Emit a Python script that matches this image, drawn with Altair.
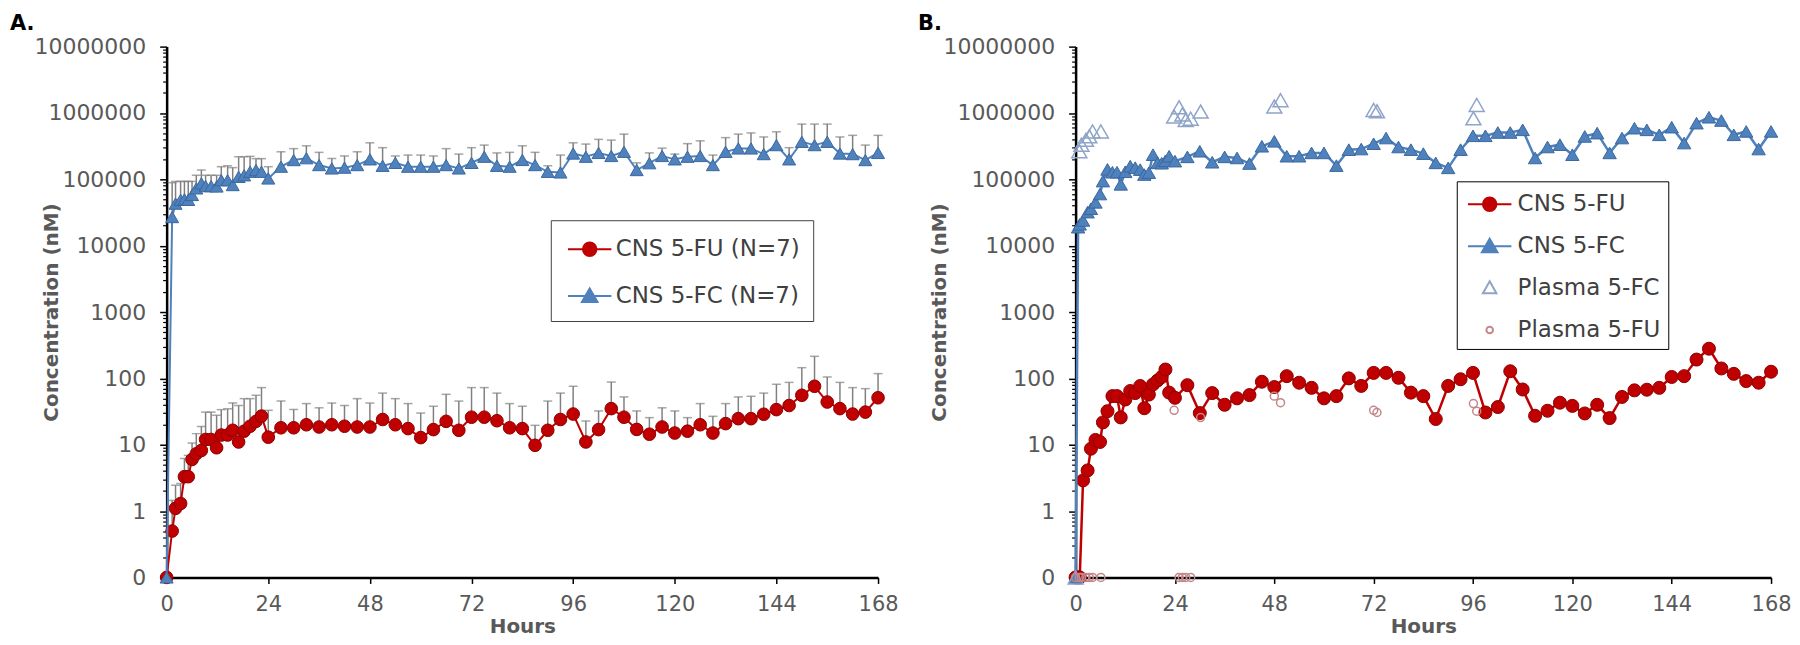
import altair as alt
import pandas as pd

# ----------------------------------------------------------------- data
ZERO_POS = 0.1  # the log axis bottom, labelled "0" (Excel plots 0 there)

hours_a = [0, 1.3, 2.1, 3.3, 4.2, 5.1, 6, 7, 8.2, 9.2, 10.5, 11.8, 12.9, 14.4, 15.6, 17, 18.3, 19.7, 21.1, 22.4, 24,
           27, 30, 33, 36, 39, 42, 45, 48, 51, 54, 57, 60, 63, 66, 69, 72, 75, 78, 81, 84,
           87, 90, 93, 96, 99, 102, 105, 108, 111, 114, 117, 120, 123, 126, 129, 132, 135, 138, 141, 144,
           147, 150, 153, 156, 159, 162, 165, 168]

fu_a = [0, 0.5, 1.1, 1.3, 3.3, 3.3, 6, 7.3, 8.2, 12, 12, 9, 14, 14, 16.5, 11, 16, 19, 22.5, 27, 13,
        18, 18, 20, 18.5, 20, 19, 18.5, 18.5, 24, 20,
        17.5, 12.8, 16.9, 22.5, 16.5, 26, 26, 23, 18, 17.5,
        9.8, 16.5, 24, 29, 11, 16.9, 35, 26, 17, 14.4,
        18.5, 15, 16, 20, 15, 20.8, 24.7, 24.7, 28.8, 33.8,
        39, 55.6, 76, 44, 35, 29, 31, 51]

fu_a_upper = [0, 1.45, 2.45, 2.6, 6.2, 6.9, 10.6, 14.7, 18.9, 31, 31, 27.8, 33.8, 34.8, 42.6, 39, 49.5, 49.5, 55.6, 72.6, 33,
              45.6, 34, 41.7, 36, 42.5, 39, 49.5, 42.5, 60, 49.5,
              41.7, 30, 38, 57.5, 45.5, 72.6, 72.6, 60, 41.7, 38,
              19.6, 45.5, 60, 76, 22.8, 32.3, 88, 52.5, 32.3, 25.6,
              36, 32.3, 25.6, 41.7, 26.8, 41.7, 52.5, 53.7, 60, 81.5,
              87, 145, 215, 105, 87, 72.6, 70, 118]

fc_a = [0, 27000, 43000, 49000, 50000, 49000, 58000, 73000, 87000, 79000, 79000, 78000, 97000, 97000, 82000,
        109000, 115000, 130000, 138000, 130000, 103000,
        155000, 195000, 208000, 164000, 146000, 150000, 164000, 200000, 160000, 177000,
        155000, 155000, 155000, 164000, 146000, 177000, 219000, 160000, 155000, 196000,
        164000, 130000, 127000, 245000, 219000, 250000, 225000, 260000, 138000, 175000,
        225000, 200000, 219000, 225000, 164000, 260000, 292000, 292000, 240000, 328000,
        200000, 368000, 328000, 368000, 245000, 240000, 195000, 250000]

fc_a_upper = [0, 89000, 93000, 93000, 93000, 93000, 93000, 115000, 138000, 115000, 115000, 115000, 155000, 160000,
              150000, 219000, 219000, 222000, 205000, 205000, 155000,
              260000, 290000, 320000, 255000, 206000, 225000, 260000, 355000, 300000, 225000,
              232000, 232000, 225000, 290000, 240000, 300000, 328000, 250000, 255000, 320000,
              255000, 160000, 232000, 355000, 340000, 400000, 390000, 480000, 177000, 250000,
              295000, 240000, 345000, 380000, 232000, 425000, 480000, 500000, 435000, 520000,
              300000, 680000, 680000, 680000, 435000, 460000, 328000, 460000]

hours_b = [0, 0.6, 1.0, 1.8, 2.9, 3.7, 4.8, 5.9, 6.6, 7.7, 8.9, 10.0, 10.9, 12.0, 13.2, 14.4, 15.6, 16.6,
           17.7, 18.7, 19.8, 20.8, 21.7, 22.6, 24,
           27, 30, 33, 36, 39, 42, 45, 48, 51, 54, 57, 60, 63, 66, 69, 72, 75, 78, 81, 84,
           87, 90, 93, 96, 99, 102, 105, 108, 111, 114, 117, 120, 123, 126, 129, 132, 135, 138, 141, 144,
           147, 150, 153, 156, 159, 162, 165, 168]

fu_b = [0, 0, 0, 2.9, 4.1, 8.7, 11.8, 11.0, 21.7, 32, 54, 54, 25.8, 48, 64.5, 60, 76.7, 35.5, 57, 81,
        93, 105, 136, 61, 51,
        79, 30, 60, 40, 50, 56, 89, 74, 108, 86,
        72, 50, 54, 100, 77, 121, 121, 102, 61, 54,
        24.4, 77, 97, 121, 30.6, 37, 128, 68, 27.3, 32.5,
        43, 38.5, 29.6, 40, 25.2, 52.5, 66, 67.5, 72, 105,
        108, 192, 280, 141, 117, 91, 86, 126]

fc_b = [0, 19000, 21000, 24000, 32000, 36000, 45000, 60000, 94000, 141000, 128000, 128000, 84000, 130000,
        158000, 150000, 140000, 118000, 126000, 235000, 177000, 175000, 190000, 223000, 188000,
        218000, 265000, 181000, 218000, 210000, 173000, 315000, 374000, 223000, 223000,
        250000, 250000, 161000, 280000, 286000, 344000, 419000, 307000, 280000, 244000,
        177000, 149000, 280000, 453000, 453000, 508000, 508000, 557000, 210000, 307000,
        333000, 235000, 443000, 497000, 250000, 419000, 590000, 557000, 469000, 611000,
        352000, 702000, 862000, 769000, 469000, 527000, 286000, 527000]

plasma_hours = [0, 0.9, 1.4, 2.5, 3.3, 4.1, 6.1, 23.8, 25.0, 25.8, 26.6, 27.8, 30.2, 48.0, 49.5, 72.0, 72.8, 96.1, 96.9]
plasma_fc = [0, 265000, 333000, 395000, 445000, 527000, 527000, 883000, 1220000, 950000, 785000, 820000, 1050000,
             1250000, 1560000, 1110000, 1060000, 830000, 1320000]
plasma_fu = [0, 0, 0, 0, 0, 0, 0, 33, 0, 0, 0, 0, 25.7, 54, 43, 33, 30.6, 41.7, 32]

legend_a = ["CNS 5-FU (N=7)", "CNS 5-FC (N=7)"]
legend_b = ["CNS 5-FU", "CNS 5-FC", "Plasma 5-FC", "Plasma 5-FU"]

x_ticks = [0, 24, 48, 72, 96, 120, 144, 168]
y_ticks = [0.1, 1, 10, 100, 1000, 10000, 100000, 1000000, 10000000]
y_minor = [m * 10 ** e for e in range(-1, 7) for m in range(2, 10)]


def frame(hours, vals, ups=None):
    ups = ups if ups is not None else [0] * len(vals)
    return pd.DataFrame({
        "hours": hours,
        "value": [v if v > 0 else ZERO_POS for v in vals],
        "upper": [u if u > 0 else None for u in ups],
    })


# ----------------------------------------------------------------- style
FONT = "DejaVu Sans"
GRAY = "#595959"
RED, RED_DK = "#C00000", "#8E0000"
BLUE, BLUE_DK = "#4F81BD", "#3A679E"
ERR = "#808080"

P_LINE_CIRCLE = "M-1.45,0L-0.45,0M0.45,0L1.45,0M-0.45,0A0.45,0.45,0,1,0,0.45,0A0.45,0.45,0,1,0,-0.45,0Z"
P_LINE_TRI = "M-1.45,0L1.45,0M0,-0.5L0.52,0.4L-0.52,0.4Z"
P_TRI_OPEN = "M0,-0.45L0.45,0.35L-0.45,0.35Z"
P_CIRC_OPEN = "M-0.22,0A0.22,0.22,0,1,0,0.22,0A0.22,0.22,0,1,0,-0.22,0Z"

ysc = alt.Scale(type="log", domain=[0.1, 10000000], nice=False)
xsc = alt.Scale(domain=[0, 168], nice=False, zero=False)

x_axis = alt.Axis(values=x_ticks, title="Hours", labelFont=FONT, labelFontSize=21, labelColor=GRAY,
                  titleFont=FONT, titleFontSize=20, titleFontWeight="bold", titleColor=GRAY,
                  domainColor="black", domainWidth=2.5, tickColor="black", tickWidth=1.5, tickSize=6,
                  labelPadding=10, titlePadding=2, grid=False, labelFlush=False)


def y_main(ext, tpad):
    return alt.Axis(values=y_ticks, orient="left",
                    labelExpr="datum.value < 0.5 ? '0' : format(datum.value, 'd')",
                    title="Concentration (nM)", labelFont=FONT, labelFontSize=22, labelColor=GRAY,
                    titleFont=FONT, titleFontSize=20, titleFontWeight="bold", titleColor=GRAY,
                    domainColor="black", domainWidth=2.5, tickColor="black", tickWidth=1.5, tickSize=7,
                    labelPadding=14, minExtent=ext, maxExtent=ext, titlePadding=tpad, grid=False)


y_minor_axis = alt.Axis(values=y_minor, orient="left", labels=False, title=None, domain=False,
                        tickSize=4, tickColor="black", tickWidth=1.2, grid=False)


def X():
    return alt.X("hours:Q", scale=xsc, axis=x_axis)


def Y(field="value", axis=None):
    return alt.Y(f"{field}:Q", scale=ysc, axis=axis)


def series_layers(df, color, dark, shape, size, lw, axis=None):
    line = alt.Chart(df).mark_line(color=color, strokeWidth=lw).encode(x=X(), y=Y(axis=axis))
    pts = alt.Chart(df).mark_point(shape=shape, filled=True, size=size, fill=color, stroke=dark,
                                   strokeWidth=1, opacity=1).encode(x=X(), y=Y())
    return [line, pts]


def err_layers(df):
    d = df[df["upper"].notna()]
    rule = alt.Chart(d).mark_rule(color=ERR, strokeWidth=1.5).encode(x=X(), y=Y(), y2="upper:Q")
    cap = alt.Chart(d).mark_tick(orient="horizontal", color=ERR, thickness=1.5, size=9).encode(
        x=X(), y=Y("upper"))
    return [rule, cap]


def legend_layer(names, fills, strokes, shapes, lx, ly, pad, rowpad, sym_off, lab_off, border):
    leg = alt.Legend(title=None, orient="none", legendX=lx, legendY=ly, labelFont=FONT, labelFontSize=23,
                     labelColor="#404040", symbolSize=900, symbolStrokeWidth=2, padding=pad,
                     rowPadding=rowpad, symbolOffset=sym_off, labelOffset=lab_off, strokeColor=border,
                     fillColor="white", labelLimit=400)
    return alt.Chart(pd.DataFrame({"series": names})).transform_filter("false").mark_point(
        filled=True, opacity=1, strokeWidth=2).encode(
        fill=alt.Fill("series:N", scale=alt.Scale(domain=names, range=fills), legend=leg),
        stroke=alt.Stroke("series:N", scale=alt.Scale(domain=names, range=strokes), legend=leg),
        shape=alt.Shape("series:N", scale=alt.Scale(domain=names, range=shapes), legend=leg),
    )


def title(txt, dx):
    return alt.TitleParams(txt, anchor="start", frame="group", dx=dx, font=FONT, fontSize=21,
                           fontWeight="bold", color="black", offset=2)


# ----------------------------------------------------------------- panel A
dfa_fu = frame(hours_a, fu_a, fu_a_upper)
dfa_fc = frame(hours_a, fc_a, fc_a_upper)

layers_a = (err_layers(dfa_fu) + err_layers(dfa_fc)
            + series_layers(dfa_fu, RED, RED_DK, "circle", 160, 2, axis=y_main(100, 5))
            + series_layers(dfa_fc, BLUE, BLUE_DK, "triangle-up", 170, 2, axis=y_minor_axis)
            + [legend_layer(legend_a, [RED, BLUE], [RED, BLUE], [P_LINE_CIRCLE, P_LINE_TRI],
                            385, 174, 13, 19, 10, 10, "#404040")])
chart_a = alt.layer(*layers_a).resolve_axis(y="independent").properties(
    width=713, height=532, title=title("A.", -157))

# ----------------------------------------------------------------- panel B
dfb_fu = frame(hours_b, fu_b)
dfb_fc = frame(hours_b, fc_b)
dfp_fc = frame(plasma_hours, plasma_fc)
dfp_fu = frame(plasma_hours, plasma_fu)

p_fc = alt.Chart(dfp_fc).mark_point(shape="triangle-up", filled=False, size=225, stroke="#8EA4C8",
                                    strokeWidth=1.5, opacity=1).encode(x=X(), y=Y())
p_fu = alt.Chart(dfp_fu).mark_point(shape="circle", filled=False, size=64, stroke="#C4878A",
                                    strokeWidth=1.5, opacity=1).encode(x=X(), y=Y())

layers_b = (series_layers(dfb_fu, RED, RED_DK, "circle", 170, 2.5, axis=y_main(120, 6))
            + series_layers(dfb_fc, BLUE, BLUE_DK, "triangle-up", 180, 2.5, axis=y_minor_axis)
            + [p_fc, p_fu,
               legend_layer(legend_b, [RED, BLUE, "transparent", "transparent"],
                            [RED, BLUE, "#8EA4C8", "#C4878A"],
                            [P_LINE_CIRCLE, P_LINE_TRI, P_TRI_OPEN, P_CIRC_OPEN],
                            382, 135, 7, 14, 10, 12, "black")])
chart_b = alt.layer(*layers_b).resolve_axis(y="independent").properties(
    width=697, height=532, title=title("B.", -158))

chart = alt.hconcat(chart_a, chart_b, spacing=19).resolve_scale(
    fill="independent", stroke="independent", shape="independent").properties(
    padding={"left": 2, "top": 4, "right": 0, "bottom": 0}).configure_view(stroke=None)

chart.save("out.html", embed_options={"renderer": "svg", "actions": False})
